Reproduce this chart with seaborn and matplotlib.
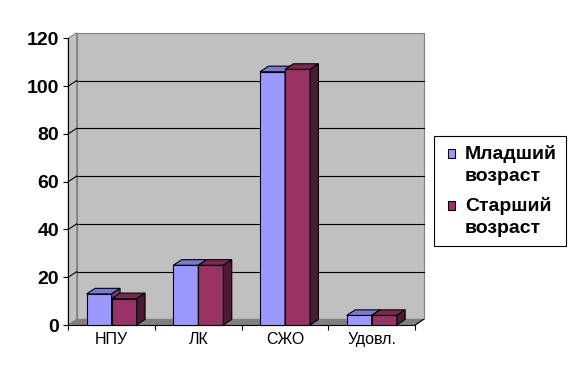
import numpy as np
import pandas as pd
import matplotlib
matplotlib.use("Agg")
import matplotlib.pyplot as plt
import seaborn as sns
from matplotlib.patches import Polygon, Rectangle
from matplotlib.colors import to_rgb

# ---- data ----
categories = ["НПУ", "ЛК", "СЖО", "Удовл."]
series_names = ["Младший возраст", "Старший возраст"]
young = [13, 25, 106, 4]
old = [11, 25, 107, 4]
y_ticks = [0, 20, 40, 60, 80, 100, 120]
colors = ["#9999FF", "#993366"]

df = pd.DataFrame({
    "cat": categories * 2,
    "grp": [series_names[0]] * len(categories) + [series_names[1]] * len(categories),
    "val": young + old,
})

plt.rcParams["font.family"] = ["Liberation Sans", "DejaVu Sans"]

W, H = 579, 378
fig = plt.figure(figsize=(W / 100, H / 100), dpi=100)
fig.patch.set_facecolor("white")
ax = fig.add_axes([0, 0, 1, 1])
ax.set_facecolor("none")

sns.barplot(data=df, x="cat", y="val", hue="grp", palette=colors, width=0.577,
            saturation=1, edgecolor="black", linewidth=0.8, legend=False, ax=ax)

# pixel mapping of the front plane
X0, PXX = 68.3, 86.7   # px of x=-0.5, px per category
Y0, PXY = 325.0, 2.389  # px of y=0, px per unit
ax.set_xlim(-0.5 - X0 / PXX, -0.5 + (W - X0) / PXX)
ax.set_ylim((Y0 - H) / PXY, Y0 / PXY)
dx = 8.4 / PXX
dy = 5.6 / PXY

xl, xr = -0.5, len(categories) - 0.5
ymax = y_ticks[-1]

# back wall, left wall, floor
ax.add_patch(Rectangle((xl + dx, dy), xr - xl, ymax, fc="#C0C0C0", ec="#808080",
                       lw=0.8, zorder=1))
ax.add_patch(Polygon([(xl, 0), (xl + dx, dy), (xl + dx, ymax + dy), (xl, ymax)],
                     closed=True, fc="#C0C0C0", ec="#808080", lw=0.8, zorder=1))
ax.add_patch(Polygon([(xl, 0), (xr, 0), (xr + dx, dy), (xl + dx, dy)],
                     closed=True, fc="#808080", ec="#808080", lw=0.8, zorder=1.2))
# gridlines on back wall and left wall
for t in y_ticks[1:-1]:
    ax.plot([xl + dx, xr + dx], [t + dy, t + dy], color="black", lw=0.8, zorder=1.5)
    ax.plot([xl, xl + dx], [t, t + dy], color="black", lw=0.8, zorder=1.5)
ax.plot([xr, xr + dx], [0, dy], color="black", lw=0.8, zorder=1.5)

# 3D faces for bars
for i, cont in enumerate(ax.containers):
    base = np.array(to_rgb(colors[i]))
    for p in cont.patches:
        x0, w, h = p.get_x(), p.get_width(), p.get_height()
        p.set_zorder(3 + i)
        ax.add_patch(Polygon([(x0, h), (x0 + w, h), (x0 + w + dx, h + dy), (x0 + dx, h + dy)],
                             closed=True, fc=base * 0.8, ec="black", lw=0.8, zorder=3 + i))
        ax.add_patch(Polygon([(x0 + w, 0), (x0 + w + dx, dy), (x0 + w + dx, h + dy), (x0 + w, h)],
                             closed=True, fc=base * 0.5, ec="black", lw=0.8, zorder=3 + i))

# axes, ticks
for s in ["top", "right"]:
    ax.spines[s].set_visible(False)
ax.spines["left"].set_position(("data", xl))
ax.spines["left"].set_bounds(0, ymax)
ax.spines["bottom"].set_position(("data", 0))
ax.spines["bottom"].set_bounds(xl, xr)
for s in ["left", "bottom"]:
    ax.spines[s].set_color("black")
    ax.spines[s].set_linewidth(0.8)
    ax.spines[s].set_zorder(2.5)

ax.set_yticks(y_ticks)
ax.set_yticklabels([str(t) for t in y_ticks], fontsize=14, fontweight="bold")
ax.tick_params(axis="y", length=3.6, width=0.8, pad=3, direction="out", colors="black", left=True)
ax.set_xticks(np.arange(len(categories) + 1) - 0.5, labels=[""] * (len(categories) + 1))
ax.set_xticks(range(len(categories)), labels=categories, minor=True)
ax.tick_params(axis="x", which="major", length=3.6, width=0.8, direction="out", colors="black")
ax.tick_params(axis="x", which="minor", length=0, pad=5, labelsize=11.5, colors="black")
ax.set_xlabel("")
ax.set_ylabel("")

# legend
handles = [c.patches[0] for c in ax.containers]
leg = ax.legend(handles, [n.replace(" ", "\n") for n in series_names],
                loc="upper left", bbox_to_anchor=(434 / W, 1 - 136 / H),
                bbox_transform=fig.transFigure, borderaxespad=0, frameon=True,
                fancybox=False, edgecolor="black", framealpha=1,
                prop={"weight": "bold", "size": 14}, handlelength=0.35,
                handleheight=0.35, handletextpad=0.8, labelspacing=0.6, borderpad=0.45)
leg.get_frame().set_linewidth(0.8)
for t in leg.get_texts():
    t.set_linespacing(1.42)
for hd in leg.legend_handles:
    hd.set_y(hd.get_y() + 7.8)
    hd.set_x(hd.get_x() + 3.6)

fig.savefig("out.png", dpi=100)
